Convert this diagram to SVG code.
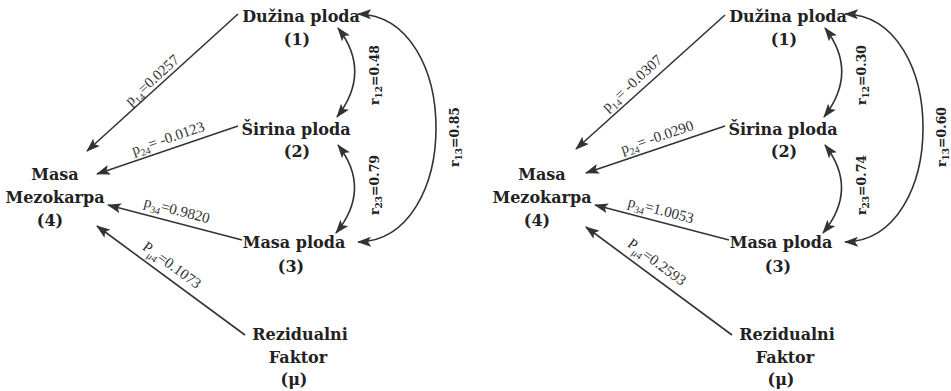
<svg xmlns="http://www.w3.org/2000/svg" width="951" height="391" viewBox="0 0 951 391">
<style>
.n{font-family:"DejaVu Serif","Liberation Serif",serif;font-weight:bold;font-size:16px;fill:#222;text-anchor:middle}
.r{font-family:"DejaVu Serif","Liberation Serif",serif;font-weight:bold;font-size:12.5px;fill:#222;text-anchor:middle}
.p{font-family:"Liberation Serif","Times New Roman",serif;font-size:15px;fill:#333;text-anchor:middle}
.s{font-size:10px}
.rs{font-size:9px}
.c{fill:none;stroke:#333;stroke-width:1.6}
.a{marker-end:url(#ah)}
.b{marker-start:url(#ah);marker-end:url(#ah)}
</style>
<defs>
<marker id="ah" markerUnits="userSpaceOnUse" markerWidth="14" markerHeight="10" refX="13" refY="5" orient="auto-start-reverse" viewBox="0 0 14 10">
<path d="M0,0 L14,5 L0,10 L3,5 z" fill="#333"/>
</marker>
</defs>

<g id="left">
<g id="connectors-left">
<line class="c a" x1="238" y1="14" x2="87" y2="151"/>
<line class="c a" x1="238" y1="126" x2="97" y2="174"/>
<line class="c a" x1="242" y1="240" x2="108" y2="205"/>
<line class="c a" x1="245" y1="335" x2="97" y2="226"/>
<path class="c b" d="M338 28 Q372 72 337 117"/>
<path class="c b" d="M338 145 Q372 189 336 233"/>
<path class="c b" d="M358 14 C462 16 462 240 358 242"/>
<text class="p" transform="translate(152,80) rotate(-42.4)" y="5">p<tspan class="s" dy="4">14</tspan><tspan dy="-4">=0.0257</tspan></text>
<text class="p" transform="translate(168,138) rotate(-18.8)" y="5">p<tspan class="s" dy="4">24</tspan><tspan dy="-4">= -0.0123</tspan></text>
<text class="p" transform="translate(177,210) rotate(14.6)" y="5">p<tspan class="s" dy="4">34</tspan><tspan dy="-4">=0.9820</tspan></text>
<text class="p" transform="translate(172,265) rotate(36.4)" y="5">P<tspan class="s" dy="4">μ4</tspan><tspan dy="-4">=0.1073</tspan></text>
<text class="r" transform="translate(374,75) rotate(-90)" y="5">r<tspan class="rs" dy="3">12</tspan><tspan dy="-3">=0.48</tspan></text>
<text class="r" transform="translate(374,185) rotate(-90)" y="5">r<tspan class="rs" dy="3">23</tspan><tspan dy="-3">=0.79</tspan></text>
<text class="r" transform="translate(454,137) rotate(-90)" y="5">r<tspan class="rs" dy="3">13</tspan><tspan dy="-3">=0.85</tspan></text>
</g>
<g id="L-n1"><text class="n" x="301" y="22">Dužina ploda</text><text class="n" x="297" y="45">(1)</text></g>
<g id="L-n2"><text class="n" x="296" y="135">Širina ploda</text><text class="n" x="297" y="157">(2)</text></g>
<g id="L-n3"><text class="n" x="294" y="248">Masa ploda</text><text class="n" x="291" y="272">(3)</text></g>
<g id="L-nmu"><text class="n" x="300" y="340">Rezidualni</text><text class="n" x="298" y="363">Faktor</text><text class="n" x="294" y="385">(μ)</text></g>
<g id="L-n4"><text class="n" x="55" y="180">Masa</text><text class="n" x="55" y="203">Mezokarpa</text><text class="n" x="50" y="226">(4)</text></g>
</g>

<g id="right" transform="translate(487,0)">
<g id="connectors-right">
<line class="c a" x1="238" y1="15" x2="89" y2="149"/>
<line class="c a" x1="238" y1="126" x2="99" y2="173"/>
<line class="c a" x1="242" y1="240" x2="108" y2="205"/>
<line class="c a" x1="245" y1="335" x2="99" y2="227"/>
<path class="c b" d="M338 28 Q372 72 337 117"/>
<path class="c b" d="M338 145 Q372 189 336 233"/>
<path class="c b" d="M358 14 C462 16 462 240 358 242"/>
<text class="p" transform="translate(145,83) rotate(-42.4)" y="5">p<tspan class="s" dy="4">14</tspan><tspan dy="-4">= -0.0307</tspan></text>
<text class="p" transform="translate(170,137) rotate(-18.8)" y="5">p<tspan class="s" dy="4">24</tspan><tspan dy="-4">= -0.0290</tspan></text>
<text class="p" transform="translate(174,210) rotate(14.6)" y="5">p<tspan class="s" dy="4">34</tspan><tspan dy="-4">=1.0053</tspan></text>
<text class="p" transform="translate(170,262) rotate(36.4)" y="5">P<tspan class="s" dy="4">μ4</tspan><tspan dy="-4">=0.2593</tspan></text>
<text class="r" transform="translate(374,75) rotate(-90)" y="5">r<tspan class="rs" dy="3">12</tspan><tspan dy="-3">=0.30</tspan></text>
<text class="r" transform="translate(374,185) rotate(-90)" y="5">r<tspan class="rs" dy="3">23</tspan><tspan dy="-3">=0.74</tspan></text>
<text class="r" transform="translate(454,137) rotate(-90)" y="5">r<tspan class="rs" dy="3">13</tspan><tspan dy="-3">=0.60</tspan></text>
</g>
<g id="R-n1"><text class="n" x="301" y="22">Dužina ploda</text><text class="n" x="297" y="45">(1)</text></g>
<g id="R-n2"><text class="n" x="296" y="135">Širina ploda</text><text class="n" x="297" y="157">(2)</text></g>
<g id="R-n3"><text class="n" x="294" y="248">Masa ploda</text><text class="n" x="291" y="272">(3)</text></g>
<g id="R-nmu"><text class="n" x="300" y="340">Rezidualni</text><text class="n" x="298" y="363">Faktor</text><text class="n" x="294" y="385">(μ)</text></g>
<g id="R-n4"><text class="n" x="55" y="180">Masa</text><text class="n" x="55" y="203">Mezokarpa</text><text class="n" x="50" y="226">(4)</text></g>
</g>
</svg>
